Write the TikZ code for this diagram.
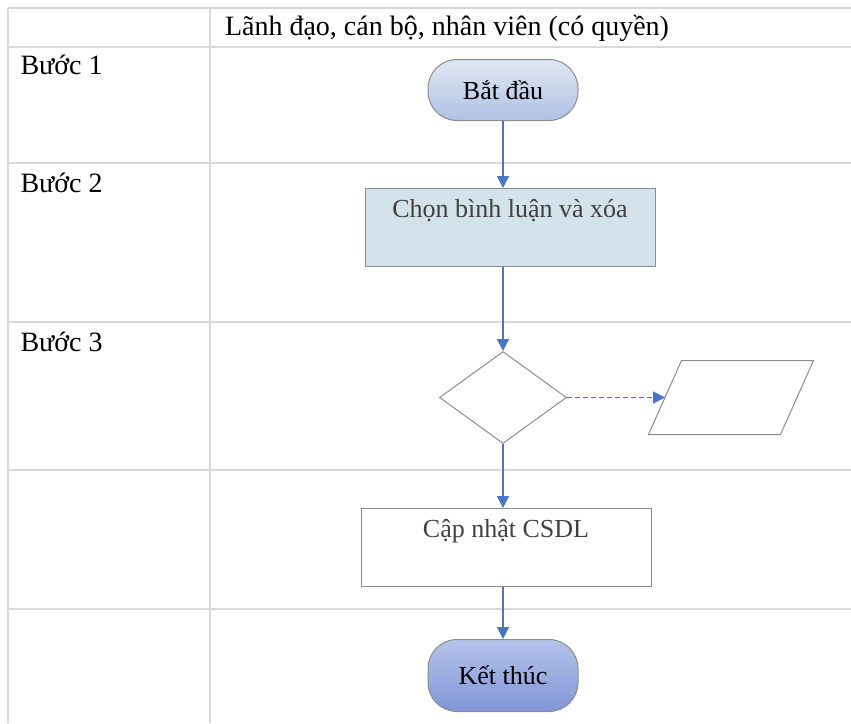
\documentclass[tikz,border=0pt]{standalone}
\usepackage{fontspec}
\setmainfont{Liberation Serif}
\usetikzlibrary{positioning, arrows.meta, shapes.geometric}
\definecolor{gridgray}{HTML}{D9D9D9}
\definecolor{linkblue}{HTML}{4A74C9}
\definecolor{edgegray}{HTML}{8C8C8C}
\definecolor{paleblue}{HTML}{E1E8F4}
\definecolor{midblue}{HTML}{AFC0E3}
\definecolor{softblue}{HTML}{B5C3EA}
\definecolor{deepblue}{HTML}{8196D6}
\definecolor{boxblue}{HTML}{D4E2EC}
\definecolor{textgray}{HTML}{404040}

\begin{document}
\begin{tikzpicture}[x=1pt, y=-1pt, font=\fontsize{28}{34}\selectfont,
  gridline/.style={draw=gridgray, line width=2pt},
  term/.style={draw=edgegray, line width=1pt, rounded corners=29pt, minimum width=150pt,
        font=\fontsize{26}{30}\selectfont},
  proc/.style={draw=edgegray, line width=1pt, minimum width=290pt, minimum height=78pt,
        align=center, text=textgray, font=\fontsize{26}{30}\selectfont},
  flow/.style={draw=linkblue, line width=1.5pt, -{Triangle[length=12pt, width=12pt]}}]
  \useasboundingbox (0,0) rectangle (851,723);
  % table
  \draw[gridline] (8,8) -- (8,723);
  \draw[gridline] (210,8) -- (210,723);
  \foreach \y in {8,47,163,322,470,609}
    \draw[gridline] (8,\y) -- (851,\y);
  \node (role) [anchor=base] at (447,35) {Lãnh đạo, cán bộ, nhân viên (có quyền)};
  \node (step1) [anchor=base west] at (17,74) {Bước 1};
  \node (step2) [anchor=base west] at (17,192) {Bước 2};
  \node (step3) [anchor=base west] at (17,351) {Bước 3};
  % flow
  \node (start) [term, minimum height=61pt, top color=paleblue, bottom color=midblue] at (503,90) {Bắt đầu};
  \node (pick) [proc, fill=boxblue, below=67pt of start, xshift=7pt] {Chọn bình luận và xóa\\\strut};
  \node (check) [shape=diamond, draw=edgegray, line width=1pt, minimum width=127pt,
        minimum height=92pt, inner sep=0pt, below=84pt of start |- pick.south] {};
  \coordinate [right=98pt of check] (datain);
  \draw[draw=edgegray, line width=1pt] (datain) ++(-16.5,37) -- ++(33,-74) -- ++(132,0)
        -- ++(-33,74) -- cycle;
  \node (save) [proc, below=64pt of check, xshift=3pt] {Cập nhật CSDL\\\strut};
  \node (stop) [term, minimum height=72pt, top color=softblue, bottom color=deepblue,
        below=52pt of start |- save.south] {Kết thúc};
  \draw[flow] (start) -- (start |- pick.north);
  \draw[flow] (pick.south -| check) -- (check);
  \draw[flow, dash pattern=on 5pt off 3pt] (check) -- (datain);
  \draw[flow] (check) -- (check |- save.north);
  \draw[flow] (save.south -| stop) -- (stop);
\end{tikzpicture}
\end{document}
